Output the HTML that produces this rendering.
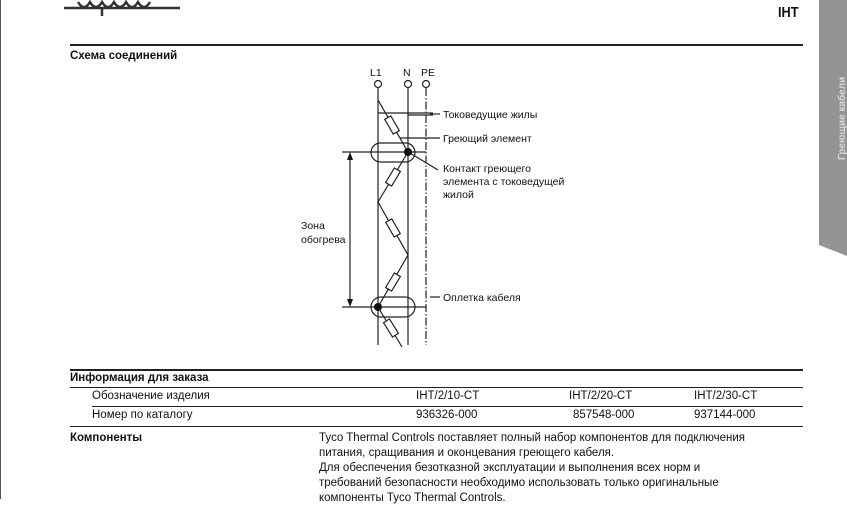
<!DOCTYPE html>
<html><head><meta charset="utf-8"><style>
body{margin:0;width:847px;height:499px;background:#fff;position:relative;overflow:hidden;font-family:"Liberation Sans",sans-serif;color:#111}
.t{position:absolute;font-size:11.5px;white-space:nowrap;line-height:14px}
.b{font-weight:bold}
.r{position:absolute;background:#222;height:1.5px}
.d{font-size:10.5px}
</style></head><body>
<div style="position:absolute;left:0;top:0;width:1px;height:499px;background:#555"></div>
<svg style="position:absolute;left:0;top:0" width="847" height="499">
<path d="M64,8 H180 M78,2 q6,10 12,0 q6,10 12,0 q6,10 12,0 q6,10 12,0 q6,10 12,0 q6,10 12,0 M102,8 v8" stroke="#333" stroke-width="2.5" fill="none"/>
<polygon points="819,0 847,0 847,256 819,245" fill="#949496"/>
<text transform="translate(845,160) rotate(-90)" font-family="Liberation Sans" font-size="10" font-weight="bold" fill="#d8d8d8">Греющие кабели</text>
<g stroke="#222" stroke-width="1.2" fill="none" font-family="Liberation Sans">
<circle cx="378" cy="84" r="3.5" fill="#fff"/><circle cx="408" cy="84" r="3.5" fill="#fff"/><circle cx="426" cy="84" r="3.5" fill="#fff"/>
<line x1="378" y1="88" x2="378" y2="345"/><line x1="408" y1="88" x2="408" y2="345"/>
<line x1="426" y1="88" x2="426" y2="345" stroke-dasharray="8,2,1.5,2"/>
<line x1="378" y1="113" x2="433" y2="113"/><line x1="408" y1="115" x2="433" y2="115"/>
<line x1="430" y1="114" x2="440" y2="114"/>
<line x1="400" y1="138" x2="440" y2="138"/>
<rect x="371" y="143" width="44" height="19" rx="9.5"/>
<line x1="342" y1="152" x2="426" y2="152"/>
<line x1="410" y1="153" x2="438" y2="170"/>
<polyline points="378,100 408,152 378,202 408,255 378,307 402,347"/>
<rect x="371" y="297" width="44" height="20" rx="10"/>
<line x1="342" y1="307" x2="426" y2="307"/>
<line x1="430" y1="297" x2="440" y2="297"/>
<line x1="350" y1="156" x2="350" y2="303"/>
<g fill="#fff">
<rect x="-3.5" y="-8.5" width="7" height="17" transform="translate(392,125) rotate(-30)"/>
<rect x="-3.5" y="-8.5" width="7" height="17" transform="translate(393,177) rotate(31)"/>
<rect x="-3.5" y="-8.5" width="7" height="17" transform="translate(393,228) rotate(-30)"/>
<rect x="-3.5" y="-8.5" width="7" height="17" transform="translate(393,282) rotate(31)"/>
<rect x="-3.5" y="-8.5" width="7" height="17" transform="translate(391,328) rotate(-32)"/>
</g>
</g>
<circle cx="408" cy="152" r="4" fill="#111"/><circle cx="378" cy="307" r="4" fill="#111"/>
<polygon points="350,152 347,160 353,160" fill="#111"/><polygon points="350,307 347,299 353,299" fill="#111"/>
</svg>
<div class="t b" style="left:778px;top:6px;font-size:15px;transform:scaleX(0.85);transform-origin:left">IHT</div>
<div class="r" style="left:70px;top:44px;width:733px"></div>
<div class="t b" style="left:70px;top:49px">Схема соединений</div>
<div class="t d" style="left:370px;top:66px">L1</div>
<div class="t d" style="left:403px;top:66px">N</div>
<div class="t d" style="left:421px;top:66px">PE</div>
<div class="t d" style="left:443px;top:108px">Токоведущие жилы</div>
<div class="t d" style="left:443px;top:132px">Греющий элемент</div>
<div class="t d" style="left:443px;top:163px;line-height:13px">Контакт греющего<br>элемента с токоведущей<br>жилой</div>
<div class="t d" style="left:301px;top:219px;line-height:14px">Зона<br>обогрева</div>
<div class="t d" style="left:443px;top:291px">Оплетка кабеля</div>
<div class="r" style="left:70px;top:369px;width:733px"></div>
<div class="t b" style="left:70px;top:371px">Информация для заказа</div>
<div class="r" style="left:70px;top:387px;width:733px;height:1px"></div>
<div class="t" style="left:92px;top:389px">Обозначение изделия</div>
<div class="t" style="left:416px;top:389px">IHT/2/10-CT</div>
<div class="t" style="left:569px;top:389px">IHT/2/20-CT</div>
<div class="t" style="left:694px;top:389px">IHT/2/30-CT</div>
<div class="r" style="left:92px;top:406px;width:711px;height:1px"></div>
<div class="t" style="left:92px;top:408px">Номер по каталогу</div>
<div class="t" style="left:416px;top:408px">936326-000</div>
<div class="t" style="left:573px;top:408px">857548-000</div>
<div class="t" style="left:694px;top:408px">937144-000</div>
<div class="r" style="left:70px;top:426px;width:733px;height:1px"></div>
<div class="t b" style="left:70px;top:431px">Компоненты</div>
<div class="t" style="left:319px;top:431px;line-height:15px">Tyco Thermal Controls поставляет полный набор компонентов для подключения<br>питания, сращивания и оконцевания греющего кабеля.<br>Для обеспечения безотказной эксплуатации и выполнения всех норм и<br>требований безопасности необходимо использовать только оригинальные<br>компоненты Tyco Thermal Controls.</div>
</body></html>
